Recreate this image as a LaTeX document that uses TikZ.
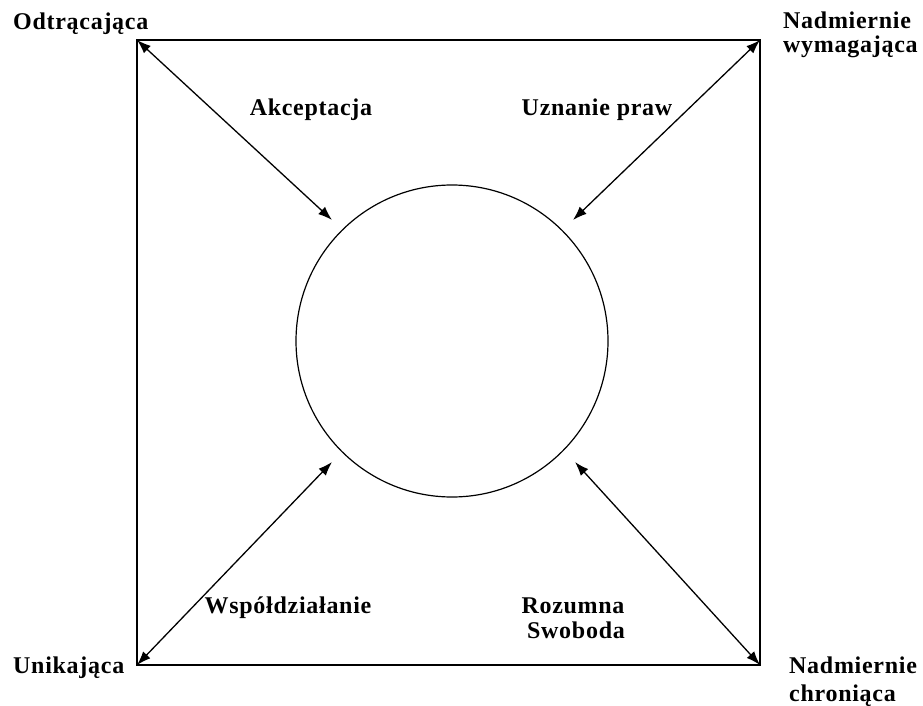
\documentclass[tikz,border=0pt]{standalone}
\usepackage{fontspec}
\setmainfont{Liberation Serif}[LetterSpace=3]
\usepackage{tikz}
\usetikzlibrary{arrows.meta}

\begin{document}
\begin{tikzpicture}[x=1pt,y=-1pt,font=\fontsize{24}{24}\selectfont\bfseries,
  lab/.style={inner sep=0pt, anchor=base},
  rel/.style={line width=1.3pt,{Latex[length=14pt,width=10pt]}-{Latex[length=14pt,width=10pt]}}]
\useasboundingbox (0,0) rectangle (923,706);
\node (tl) at (137,40){};
\node (tr) at (760,40){};
\node (bl) at (137,665){};
\node (br) at (760,665){};
\draw[line width=2pt] (tl.center) -- (tr.center) -- (br.center) -- (bl.center) -- cycle;
\node[draw, circle, line width=1.2pt, minimum size=312pt, inner sep=0pt] (c) at (452,341){};
\coordinate (ctl) at (332,220);
\coordinate (ctr) at (573,220);
\coordinate (cbl) at (332,462);
\coordinate (cbr) at (575,462);
\draw[rel] (tl.center) -- (ctl);
\draw[rel] (tr.center) -- (ctr);
\draw[rel] (bl.center) -- (cbl);
\draw[rel] (br.center) -- (cbr);
\node[lab, anchor=base west] (odt) at (13,30){Odtrącająca};
\node[lab, anchor=base west] (nad1) at (783,29){Nadmiernie};
\node[lab, anchor=base west] (wym) at (783,53){wymagająca};
\node[lab, anchor=base west] (uni) at (13,673){Unikająca};
\node[lab, anchor=base west] (nad2) at (789,673){Nadmiernie};
\node[lab, anchor=base west] (chr) at (789,701){chroniąca};
\node[lab] (akc) at (311,116){Akceptacja};
\node[lab] (uzn) at (597,116){Uznanie praw};
\node[lab] (wsp) at (288,613){Współdziałanie};
\node[lab] (roz) at (573,613){Rozumna};
\node[lab] (swo) at (576,638){Swoboda};
\end{tikzpicture}
\end{document}
